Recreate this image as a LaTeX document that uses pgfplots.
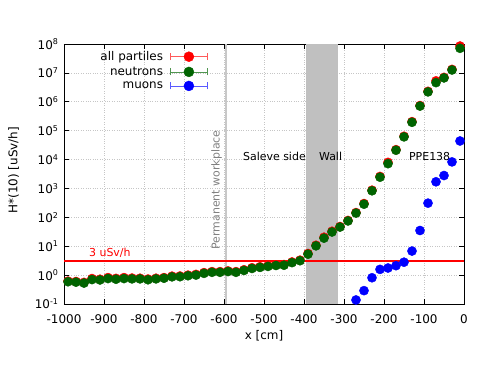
\documentclass[border=0pt]{standalone}
\usepackage{fontspec}
\setmainfont{DejaVu Sans}
\usepackage{pgfplots}
\pgfplotsset{compat=1.18}

\definecolor{dkgreen}{RGB}{0,100,0}
\definecolor{legred}{RGB}{255,90,90}
\definecolor{leggreen}{RGB}{80,150,80}
\definecolor{legblue}{RGB}{90,90,255}
\definecolor{wallgray}{RGB}{192,192,192}
\definecolor{limitred}{RGB}{255,0,0}
\definecolor{workgray}{RGB}{200,200,200}

% legend image: error bar with end caps and a dot
\pgfplotsset{
  errleg/.style n args={2}{legend image code/.code={
    \draw[#1, line width=0.8pt] (0bp,0bp) -- (37bp,0bp);
    \draw[#1, line width=0.8pt] (0bp,-3.5bp) -- (0bp,3.5bp) (37bp,-3.5bp) -- (37bp,3.5bp);
    \fill[#2] (18.5bp,0bp) circle (5bp);
  }},
}

\begin{document}
\begin{tikzpicture}
\path[use as bounding box] (-64bp,-61bp) rectangle (423bp,304bp);
\begin{axis}[
    scale only axis,
    width=400bp, height=260bp,
    at={(0,0)}, anchor=south west,
    xmin=-1000, xmax=0,
    ymode=log, log basis y=10,
    ymin=0.1, ymax=1e8,
    xtick={-1000,-900,...,0},
    ytickten={-1,0,...,8},
    xticklabel={\pgfmathparse{int(round(\tick))}\pgfmathresult},
    yticklabel={\pgfmathparse{int(round(\tick))}10\textsuperscript{\pgfmathresult}},
    tick label style={font=\fontsize{12}{14}\selectfont},
    xticklabel style={yshift=-7bp},
    yticklabel style={xshift=-2bp},
    major tick length=5bp, minor tick length=3bp,
    tick style={black, line width=0.6pt},
    axis line style={line width=0.8pt},
    grid=major,
    grid style={dotted, gray!45, line width=0.6pt},
    clip=false,
    xlabel={x [cm]},
    ylabel={H*(10) [uSv/h]},
    every axis x label/.style={at={(axis description cs:0.5,-0.123)}, anchor=center,
      font=\fontsize{12}{14}\selectfont},
    every axis y label/.style={at={(axis description cs:-0.126,0.515)}, rotate=90, anchor=center,
      font=\fontsize{12}{14}\selectfont},
    legend style={draw=none, fill=none, at={(axis description cs:0.36,0.98)},
      anchor=north east, font=\fontsize{12}{14}\selectfont, inner sep=0pt,
      row sep=1pt, column sep=5bp},
    legend cell align=right,
    legend plot pos=right,
]

% wall and permanent workplace
\addplot[draw=none, fill=wallgray, forget plot] coordinates {(-395,0.1) (-315,0.1) (-315,1e8) (-395,1e8)} -- cycle;
\addplot[workgray, line width=2bp, forget plot] coordinates {(-595,0.1) (-595,1e8)};
% 3 uSv/h limit
\addplot[limitred, line width=2bp, forget plot] coordinates {(-1000,3) (0,3)};

\node[text=limitred, anchor=base west, font=\fontsize{11}{13}\selectfont] at (axis cs:-946,4.24) {3 uSv/h};
\node[text=gray, rotate=90, anchor=base west, font=\fontsize{11}{13}\selectfont] at (axis cs:-611,5.84) {Permanent workplace};
\node[anchor=base west, font=\fontsize{11}{13}\selectfont] at (axis cs:-561,9270) {Saleve side};
\node[anchor=base west, font=\fontsize{11}{13}\selectfont] at (axis cs:-371,9270) {Wall};
\node[anchor=base west, font=\fontsize{11}{13}\selectfont] at (axis cs:-146,9270) {PPE138};

% all particles
\addplot[only marks, mark=*, mark size=4.6pt, red, errleg={legred}{red}] coordinates {
(-990,0.62) (-970,0.60) (-950,0.56) (-930,0.76) (-910,0.72) (-890,0.82) (-870,0.77) (-850,0.82) (-830,0.79) (-810,0.78)
(-790,0.73) (-770,0.78) (-750,0.82) (-730,0.92) (-710,0.93) (-690,1.00) (-670,1.06) (-650,1.22) (-630,1.32) (-610,1.32)
(-590,1.40) (-570,1.32) (-550,1.53) (-530,1.80) (-510,1.95) (-490,2.10) (-470,2.27) (-450,2.32) (-430,2.85) (-410,3.3)
(-390,5.6) (-370,10.8) (-350,20.5) (-330,33) (-310,48) (-290,78) (-270,146) (-250,300) (-230,870) (-210,2600)
(-190,8000) (-170,22000) (-150,64000) (-130,205000) (-110,740000) (-90,2.3e6) (-70,5.3e6) (-50,7.0e6) (-30,1.32e7) (-10,8.5e7)
};
\addlegendentry{all partiles}

% neutrons
\addplot[only marks, mark=*, mark size=4.6pt, dkgreen, errleg={leggreen}{dkgreen}] coordinates {
(-990,0.59) (-970,0.57) (-950,0.53) (-930,0.70) (-910,0.68) (-890,0.76) (-870,0.72) (-850,0.76) (-830,0.74) (-810,0.74)
(-790,0.69) (-770,0.74) (-750,0.78) (-730,0.87) (-710,0.88) (-690,0.95) (-670,1.00) (-650,1.15) (-630,1.25) (-610,1.25)
(-590,1.33) (-570,1.25) (-550,1.45) (-530,1.70) (-510,1.85) (-490,2.00) (-470,2.15) (-450,2.20) (-430,2.70) (-410,3.15)
(-390,5.3) (-370,10.3) (-350,19.0) (-330,31) (-310,46) (-290,75) (-270,140) (-250,285) (-230,830) (-210,2450)
(-190,7200) (-170,21000) (-150,61000) (-130,195000) (-110,710000) (-90,2.2e6) (-70,4.6e6) (-50,6.7e6) (-30,1.26e7) (-10,7.1e7)
};
\addlegendentry{neutrons}

% muons
\addplot[only marks, mark=*, mark size=4.6pt, blue, errleg={legblue}{blue}] coordinates {
(-270,0.138) (-250,0.29) (-230,0.81) (-210,1.58) (-190,1.76) (-170,2.12) (-150,2.8)
(-130,6.8) (-110,35) (-90,310) (-70,1700) (-50,2800) (-30,8300) (-10,44000)
};
\addlegendentry{muons}

\end{axis}
\end{tikzpicture}
\end{document}
